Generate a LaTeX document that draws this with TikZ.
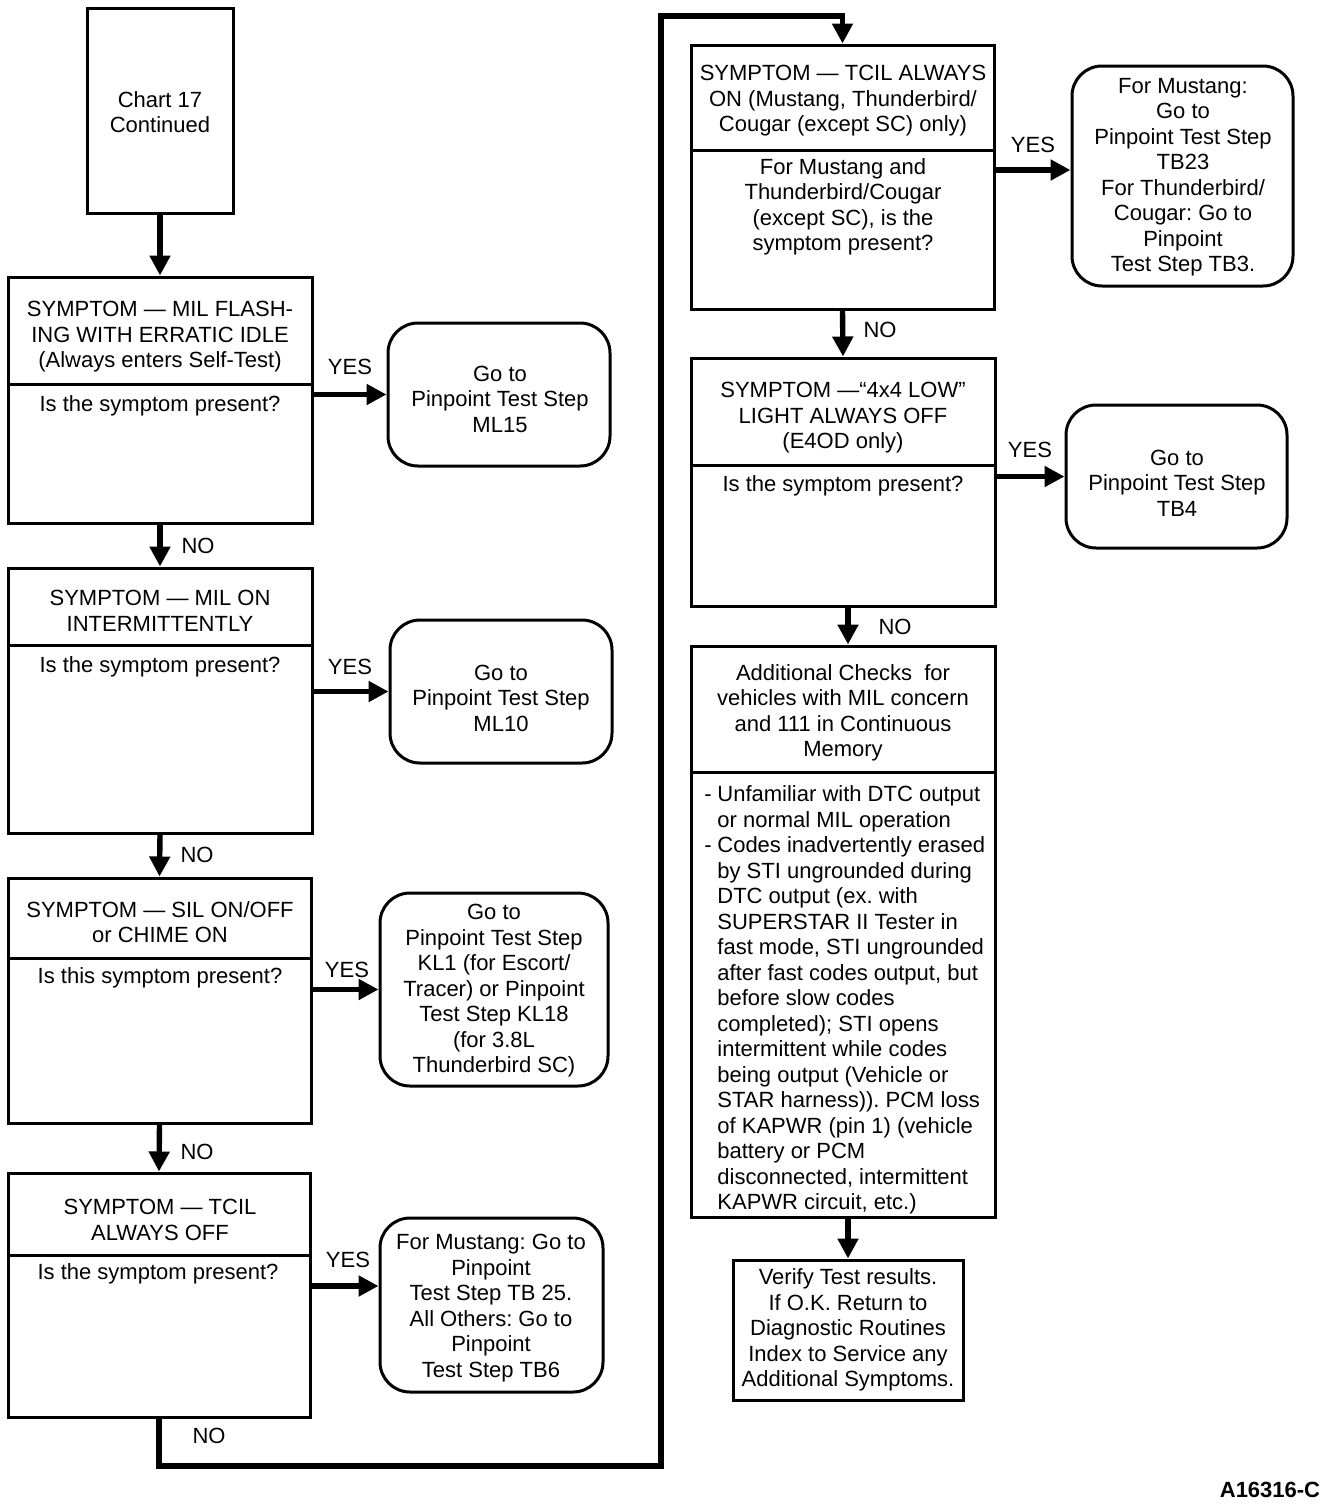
\documentclass[tikz,border=0pt]{standalone}
\usepackage{fontspec}
\setmainfont{Liberation Sans}
\usetikzlibrary{arrows.meta,fit,calc}
\frenchspacing
\newcommand{\hd}{\makebox[6.5pt][l]{-}}
\newcommand{\hi}{\hspace*{6.5pt}}
\begin{document}
\begin{tikzpicture}[x=0.5pt,y=-0.5pt,
  every node/.style={font=\fontsize{11}{12.75}\selectfont, inner sep=0pt},
  box/.style={draw, line width=1.5pt, inner sep=0pt},
  rbox/.style={draw, line width=1.5pt, rounded corners=15pt, inner sep=0pt},
  txt/.style={align=center},
  divider/.style={line width=1.5pt},
  flow/.style={line width=2.7pt, -{Triangle[length=10pt,width=10pt]}},
  loop/.style={line width=2.7pt, line join=miter, -{Triangle[length=10pt,width=10pt]}},
]
\useasboundingbox (0,0) rectangle (1344,1506);

% ---- left column boxes
\node[box, fit={(87,8) (233,213)}] (chart) {};
\node[txt] (charttxt) at (160,112) {Chart 17\\Continued};

\node[box, fit={(8,277) (312,523)}] (b1) {};
\draw[divider] (b1.west |- 0,384) -- (b1.east |- 0,384);
\node[txt] (b1t) at (160,337) {SYMPTOM — MIL FLASH-\\ING WITH ERRATIC IDLE\\(Always enters Self-Test)};
\node[txt] (b1q) at (160,406) {Is the symptom present?};

\node[box, fit={(8,568) (312,833)}] (b2) {};
\draw[divider] (b2.west |- 0,645) -- (b2.east |- 0,645);
\node[txt] (b2t) at (160,611) {SYMPTOM — MIL ON\\INTERMITTENTLY};
\node[txt] (b2q) at (160,667) {Is the symptom present?};

\node[box, fit={(8,878) (311,1123)}] (b3) {};
\draw[divider] (b3.west |- 0,958) -- (b3.east |- 0,958);
\node[txt] (b3t) at (160,922) {SYMPTOM — SIL ON/OFF\\or CHIME ON};
\node[txt] (b3q) at (160,978) {Is this symptom present?};

\node[box, fit={(8,1173) (310,1417)}] (b4) {};
\draw[divider] (b4.west |- 0,1255) -- (b4.east |- 0,1255);
\node[txt] (b4t) at (160,1220) {SYMPTOM — TCIL\\ALWAYS OFF};
\node[txt] (b4q) at (158,1274) {Is the symptom present?};

% ---- left rounded boxes
\node[rbox, fit={(388,323) (610,466)}] (r1) {};
\node[txt] (r1t) at (500,399) {Go to\\Pinpoint Test Step\\ML15};
\node[rbox, fit={(390,620) (612,763)}] (r2) {};
\node[txt] (r2t) at (501,698) {Go to\\Pinpoint Test Step\\ML10};
\node[rbox, fit={(380,893) (608,1086)}] (r3) {};
\node[txt] (r3t) at (494,991) {Go to\\Pinpoint Test Step\\KL1 (for Escort/\\Tracer) or Pinpoint\\Test Step KL18\\(for 3.8L\\Thunderbird SC)};
\node[rbox, fit={(380,1218) (603,1392)}] (r4) {};
\node[txt] (r4t) at (491,1308) {For Mustang: Go to\\Pinpoint\\Test Step TB 25.\\All Others: Go to\\Pinpoint\\Test Step TB6};

% ---- right column boxes
\node[box, fit={(691,45) (994,309)}] (b5) {};
\draw[divider] (b5.west |- 0,150) -- (b5.east |- 0,150);
\node[txt] (b5t) at (843,101) {SYMPTOM — TCIL ALWAYS\\ON (Mustang, Thunderbird/\\Cougar (except SC) only)};
\node[txt] (b5q) at (843,207) {For Mustang and\\Thunderbird/Cougar\\(except SC), is the\\symptom present?};

\node[box, fit={(691,358) (995,606)}] (b6) {};
\draw[divider] (b6.west |- 0,465) -- (b6.east |- 0,465);
\node[txt] (b6t) at (843,418) {SYMPTOM —“4x4 LOW”\\LIGHT ALWAYS OFF\\(E4OD only)};
\node[txt] (b6q) at (843,486) {Is the symptom present?};

\node[box, fit={(691,646) (995,1217)}] (b7) {};
\draw[divider] (b7.west |- 0,772) -- (b7.east |- 0,772);
\node[txt] (b7t) at (843,713) {Additional Checks\ \ for\\vehicles with MIL concern\\and 111 in Continuous\\Memory};
\node[align=left, anchor=west] (b7b) at (704,1000) {\hd Unfamiliar with DTC output\\
\hi or normal MIL operation\\
\hd Codes inadvertently erased\\
\hi by STI ungrounded during\\
\hi DTC output (ex. with\\
\hi SUPERSTAR II Tester in\\
\hi fast mode, STI ungrounded\\
\hi after fast codes output, but\\
\hi before slow codes\\
\hi completed); STI opens\\
\hi intermittent while codes\\
\hi being output (Vehicle or\\
\hi STAR harness)). PCM loss\\
\hi of KAPWR (pin 1) (vehicle\\
\hi battery or PCM\\
\hi disconnected, intermittent\\
\hi KAPWR circuit, etc.)};

\node[box, fit={(733,1260) (963,1400)}] (b8) {};
\node[txt] (b8t) at (848,1330) {Verify Test results.\\If O.K. Return to\\Diagnostic Routines\\Index to Service any\\Additional Symptoms.};

% ---- right rounded boxes
\node[rbox, fit={(1072,66) (1293,286)}] (r5) {};
\node[txt] (r5t) at (1183,177) {For Mustang:\\Go to\\Pinpoint Test Step\\TB23\\For Thunderbird/\\Cougar: Go to\\Pinpoint\\Test Step TB3.};
\node[rbox, fit={(1066,405) (1287,548)}] (r6) {};
\node[txt] (r6t) at (1177,483) {Go to\\Pinpoint Test Step\\TB4};

% ---- connectors
\draw[flow] (chart.south) -- (b1.north);
\draw[flow] (b1.south) -- (b2.north);
\draw[flow] (b2.south) -- (b3.north);
\draw[flow] (b3.south) -- (b4.north);
\coordinate (c1) at (661,1466);
\coordinate (c2) at (661,16);
\draw[loop] (b4.south) |- (c1) -- (c2) -| (b5.north);
\draw[flow] (b5.south) -- (b6.north);
\draw[flow] (b6.south -| b8.north) -- (b7.north -| b8.north);
\draw[flow] (b7.south -| b8.north) -- (b8.north);

\coordinate (y4) at (0,1286);
\coordinate (y5) at (0,170);
\draw[flow] (b1.east |- r1.west) -- (r1.west);
\draw[flow] (b2.east |- r2.west) -- (r2.west);
\draw[flow] (b3.east |- r3.west) -- (r3.west);
\draw[flow] (b4.east |- y4) -- (r4.west |- y4);
\draw[flow] (b5.east |- y5) -- (r5.west |- y5);
\draw[flow] (b6.east |- r6.west) -- (r6.west);

% ---- labels
\node (yes1) at (350,367) {YES};
\node (yes2) at (350,667) {YES};
\node (yes3) at (347,970) {YES};
\node (yes4) at (348,1260) {YES};
\node (yes5) at (1033,145) {YES};
\node (yes6) at (1030,450) {YES};
\node (no1) at (198,546) {NO};
\node (no2) at (197,855) {NO};
\node (no3) at (197,1152) {NO};
\node (no4) at (209,1436) {NO};
\node (no5) at (880,330) {NO};
\node (no6) at (895,627) {NO};
\node[font=\fontsize{11}{12.75}\selectfont\bfseries] (fig) at (1270,1490) {A16316-C};
\end{tikzpicture}
\end{document}
